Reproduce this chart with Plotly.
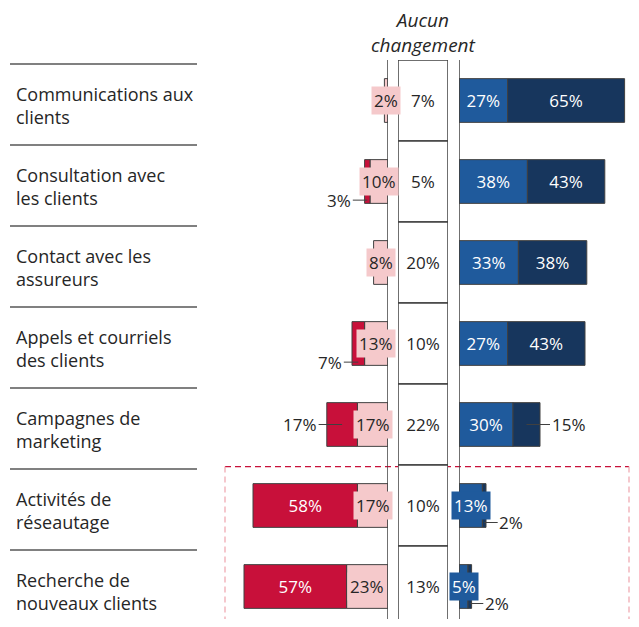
import plotly.graph_objects as go

# Data (percent of respondents)
categories = [
    "Communications aux<br>clients",
    "Consultation avec<br>les clients",
    "Contact avec les<br>assureurs",
    "Appels et courriels<br>des clients",
    "Campagnes de<br>marketing",
    "Activités de<br>réseautage",
    "Recherche de<br>nouveaux clients",
]
decrease_some = [2, 10, 8, 13, 17, 17, 23]
decrease_lot = [0, 3, 0, 7, 17, 58, 57]
no_change = [7, 5, 20, 10, 22, 10, 13]
increase_some = [27, 38, 33, 27, 30, 13, 5]
increase_lot = [65, 43, 38, 43, 15, 2, 2]
highlight_from = 5  # first row inside the dashed box

# page body has an 8px margin on every side; keep the figure inside the window
OFF = 8
W, H = 639 - 2 * OFF, 627 - 2 * OFF
TOP = 60 - OFF
ROW_PX = 81      # height of one row
PCT_PX = 1.8     # pixels per percentage point
FONT = "Open Sans"
DARK_RED = "#C8103A"
PINK = "#F5C9CB"
BLUE = "#1F5A9C"
NAVY = "#17365D"
EDGE = "#404040"
TEXT = "#262626"
BAR_W = 0.54
INSIDE_MIN = 20


def px(x):
    # window pixel -> paper fraction
    return (x - OFF) / W


rows = list(range(len(categories)))

fig = go.Figure()

# left side (decrease), drawn on a reversed axis
fig.add_trace(go.Bar(
    y=rows, x=decrease_some, base=0, orientation="h", xaxis="x", yaxis="y",
    width=BAR_W, marker=dict(color=PINK, line=dict(color=EDGE, width=1)),
    hoverinfo="skip",
))
fig.add_trace(go.Bar(
    y=rows, x=[v if v else None for v in decrease_lot], base=decrease_some,
    orientation="h", xaxis="x", yaxis="y", width=BAR_W,
    marker=dict(color=DARK_RED, line=dict(color=EDGE, width=1)),
    text=[f"{v}%" if v >= INSIDE_MIN else "" for v in decrease_lot],
    textposition="inside", insidetextanchor="middle", textangle=0,
    textfont=dict(color="white", size=17), hoverinfo="skip",
))

# middle column (no change)
fig.add_trace(go.Bar(
    y=rows, x=[1] * len(rows), orientation="h", xaxis="x3", yaxis="y",
    width=1, marker=dict(color="white", line=dict(color=EDGE, width=1.5)),
    text=[f"{v}%" for v in no_change], textposition="inside",
    insidetextanchor="middle", textangle=0,
    textfont=dict(color=TEXT, size=17), hoverinfo="skip",
))

# right side (increase)
fig.add_trace(go.Bar(
    y=rows, x=increase_some, base=0, orientation="h", xaxis="x2", yaxis="y",
    width=BAR_W, marker=dict(color=BLUE, line=dict(color=EDGE, width=1)),
    text=[f"{v}%" if v >= INSIDE_MIN else "" for v in increase_some],
    textposition="inside", insidetextanchor="middle", textangle=0,
    textfont=dict(color="white", size=17), hoverinfo="skip",
))
fig.add_trace(go.Bar(
    y=rows, x=increase_lot, base=increase_some, orientation="h",
    xaxis="x2", yaxis="y", width=BAR_W,
    marker=dict(color=NAVY, line=dict(color=EDGE, width=1)),
    text=[f"{v}%" if v >= INSIDE_MIN else "" for v in increase_lot],
    textposition="inside", insidetextanchor="middle", textangle=0,
    textfont=dict(color="white", size=17), hoverinfo="skip",
))

ann = []
shapes = []

for i, cat in enumerate(categories):
    # category label + separator line
    ann.append(dict(x=px(14), xref="paper", y=i + 0.06, yref="y", text=cat,
                    xanchor="left", align="left", showarrow=False,
                    font=dict(size=18, color=TEXT)))
    shapes.append(dict(type="line", xref="paper", x0=px(10), x1=px(197),
                       yref="y", y0=i - 0.45, y1=i - 0.45,
                       line=dict(color="#808080", width=2)))

    # pink labels with a background box
    ds = decrease_some[i]
    ann.append(dict(x=ds / 2, xref="x", y=i, yref="y", text=f"{ds}%",
                    showarrow=False, bgcolor=PINK, borderpad=2,
                    font=dict(size=17, color=TEXT)))

    # dark red labels outside the bar
    dl = decrease_lot[i]
    if 0 < dl < INSIDE_MIN:
        small = dl < 10
        ann.append(dict(x=ds + dl / 2, xref="x", y=i + (0.23 if small else 0),
                        yref="y", text=f"{dl}%", showarrow=True, arrowhead=0,
                        arrowwidth=1, arrowcolor=EDGE, ax=-28 if small else -42,
                        ay=0, font=dict(size=17, color=TEXT)))

    # small blue labels with a background box
    inc = increase_some[i]
    if inc < INSIDE_MIN:
        ann.append(dict(x=inc / 2, xref="x2", y=i, yref="y", text=f"{inc}%",
                        showarrow=False, bgcolor=BLUE, borderpad=2,
                        font=dict(size=17, color="white")))

    # navy labels outside the bar
    il = increase_lot[i]
    if il < INSIDE_MIN:
        small = il < 10
        ann.append(dict(x=inc + il / 2, xref="x2", y=i + (0.21 if small else 0),
                        yref="y", text=f"{il}%", showarrow=True, arrowhead=0,
                        arrowwidth=1, arrowcolor=EDGE, ax=27 if small else 42,
                        ay=0, font=dict(size=17, color=TEXT)))

# header of middle column
ann.append(dict(x=0.5, xref="x3", y=1 - (33 - OFF) / H, yref="paper",
                yanchor="middle", text="<i>Aucun<br>changement</i>",
                showarrow=False, font=dict(size=19, color=TEXT)))

y_end = -0.5 + (H - TOP) / ROW_PX

# baseline axes on both sides
for xr in ("x", "x2"):
    shapes.append(dict(type="line", xref=xr, x0=0, x1=0, yref="y",
                       y0=-0.5, y1=y_end, line=dict(color=EDGE, width=1.5)))

# dashed box around highlighted rows
top = highlight_from - 0.48
right = px(629)
shapes.append(dict(type="line", xref="paper", x0=px(225), x1=right,
                   yref="y", y0=top, y1=top, layer="below",
                   line=dict(color=DARK_RED, width=1.3, dash="6px,4px")))
for xx in (px(225), right):
    shapes.append(dict(type="line", xref="paper", x0=xx, x1=xx, yref="y",
                       y0=top, y1=y_end, layer="below",
                       line=dict(color="#EFA3AC", width=1.2, dash="6px,4px")))

fig.update_layout(
    width=W, height=H,
    margin=dict(l=0, r=0, t=0, b=0),
    paper_bgcolor="white", plot_bgcolor="rgba(0,0,0,0)",
    barmode="overlay", showlegend=False,
    font=dict(family=FONT, color=TEXT),
    xaxis=dict(domain=[px(208), px(388)], range=[(388 - 208) / PCT_PX, 0],
               visible=False, anchor="y"),
    xaxis2=dict(domain=[px(459), 1], range=[0, (OFF + W - 459) / PCT_PX],
                visible=False, anchor="y"),
    xaxis3=dict(domain=[px(398), px(448)], range=[0, 1], visible=False,
                anchor="y"),
    yaxis=dict(domain=[0, 1 - TOP / H], range=[y_end, -0.5], visible=False),
    annotations=ann,
    shapes=shapes,
)

fig.write_html("out.html")
